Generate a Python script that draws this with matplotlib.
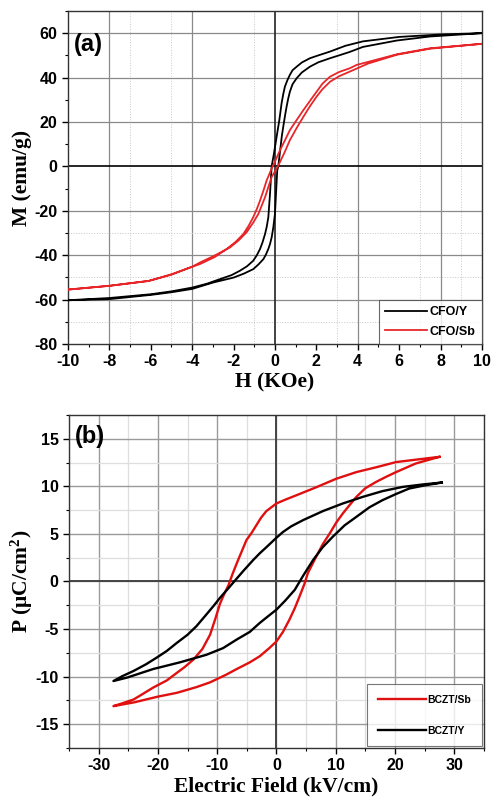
import matplotlib
matplotlib.use("Agg")
import matplotlib.pyplot as plt
from matplotlib.ticker import MultipleLocator

plt.rcParams["axes.unicode_minus"] = False
plt.rcParams["mathtext.fontset"] = "custom"
plt.rcParams["mathtext.rm"] = "Liberation Serif:bold"
plt.rcParams["mathtext.bf"] = "Liberation Serif:bold"
plt.rcParams["mathtext.it"] = "Liberation Serif:bold"

# ---- panel (a): M-H loops ----
# each loop: descending branch (+10 -> -10) followed by ascending branch (-10 -> +10)
cfo_y_H = [10, 8, 6, 4.25, 3.4, 2.66, 2.1, 1.69, 1.3, 1.05, 0.85, 0.72, 0.6, 0.48, 0.4,
           0.32, 0.21, 0.08, -0.05, -0.16, -0.24, -0.32, -0.4, -0.48, -0.6, -0.72, -0.88,
           -1.05, -1.35, -1.69, -2.1, -2.66, -3.3, -4, -5, -6, -8, -10,
           -8, -6, -5, -4, -2.98, -2.0, -1.5, -1.05, -0.8, -0.56, -0.44, -0.32, -0.24, -0.16,
           -0.08, 0, 0.05, 0.11, 0.16, 0.27, 0.33, 0.4, 0.48, 0.56, 0.64, 0.72, 0.85, 1.05,
           1.3, 1.69, 2.1, 2.66, 3.1, 3.6, 4.25, 5.9, 7.5, 10]
cfo_y_M = [60, 59.4, 58.3, 56.3, 54.3, 51.7, 50.0, 48.7, 46.8, 44.9, 43.3, 41.2, 38.8, 35.9, 32.5,
           28.4, 20.8, 13.3, 5.7, 0, -12.4, -22.9, -27.3, -30.5, -34.2, -37.2, -40.1,
           -42.5, -45.0, -47, -49.0, -50.8, -52.9, -54.6, -56.3, -57.6, -59.3, -60.3,
           -59.8, -57.9, -56.7, -55.2, -52.3, -50.1, -48.3, -46.3, -44.2, -41.8, -39.8, -37.2, -35.0, -32,
           -27.5, -21.4, -12.4, -1.8, 0, 8.7, 13.5, 17.8, 22.5, 26.8, 30.5, 33.6, 37.0, 39.7,
           42.3, 44.9, 46.9, 48.7, 50.0, 51.5, 53.8, 56.7, 58.5, 60]

cfo_sb_H = [10, 7.5, 5.9, 3.95, 3.62, 3.1, 2.66, 2.3, 2.01, 1.7, 1.37, 1.05, 0.72, 0.48, 0.24,
            0.04, -0.16, -0.4, -0.56, -0.72, -0.88, -1.05, -1.28, -1.53, -1.9, -2.33, -2.9,
            -3.62, -4.0, -5.0, -6.1, -8, -10,
            -8, -6.1, -5.0, -4.0, -3.62, -2.9, -2.17, -1.75, -1.37, -1.05, -0.8, -0.48, -0.16,
            0.14, 0.45, 0.72, 1.05, 1.37, 1.7, 2.01, 2.3, 2.66, 3.1, 3.62, 4.5, 5.9, 7.5, 10]
cfo_sb_M = [55.2, 53.2, 50.5, 45.7, 44.2, 42.5, 40.4, 37.3, 33.6, 29.6, 25.3, 20.9, 16.3, 11.7, 7.2,
            3.0, -1, -6.3, -11.0, -15.4, -19.3, -22.9, -26.9, -30.5, -34.0, -37.2, -40.8,
            -44, -45.2, -48.8, -51.6, -53.8, -55.5,
            -53.8, -51.6, -48.6, -45.2, -43.3, -40.1, -36.5, -33.3, -29.7, -25.3, -21.4, -13.9, -4.8,
            0, 6.0, 11.8, 17.3, 22.3, 27.2, 31.4, 34.8, 38.1, 40.6, 42.7, 46.3, 50.3, 53, 55.2]

# ---- panel (b): P-E loops ----
bczt_sb_E = [27.5, 25.5, 23.5, 20.2, 16.8, 13.5, 10.1, 6.7, 3.4, 1.5, 0, -1.7, -2.6, -3.4,
             -4.2, -5.05, -5.9, -6.7, -7.4, -8.1, -8.8, -9.5, -10.3, -11.2, -12.5, -14,
             -15.5, -16.8, -18.5, -20.8, -22.5, -24.1, -26, -27.5,
             -24, -20, -16.8, -13.5, -11.2, -8.5, -6.7, -4.5, -2.8, -1.2, 0, 1.1, 2.2, 3.1,
             3.9, 4.7, 5.3, 6.7, 7.8, 9.0, 10.1, 11.2, 12.3, 13.5, 15, 16.8, 18.5, 20.2,
             23.5, 27.5]
bczt_sb_P = [13.1, 12.95, 12.8, 12.55, 12.0, 11.5, 10.8, 9.9, 9.07, 8.6, 8.2, 7.4, 6.7, 5.9,
             5.1, 4.36, 3.1, 1.9, 0.8, -0.4, -1.3, -2.3, -3.9, -5.6, -7.1, -8.2,
             -9.0, -9.6, -10.4, -11.15, -11.8, -12.4, -12.8, -13.1,
             -12.7, -12.1, -11.7, -11.1, -10.6, -9.8, -9.2, -8.5, -7.85, -7.0, -6.3, -5.3, -4.0, -2.8,
             -1.57, -0.3, 0.88, 2.6, 3.9, 5.06, 6.2, 7.15, 8.0, 8.9, 9.8, 10.46, 11.0, 11.5,
             12.4, 13.1]

bczt_y_E = [27.9, 24.7, 21.3, 17.9, 14.6, 11.2, 7.85, 4.5, 2.5, 1.1, 0, -1.7, -2.8, -3.9,
            -5.6, -6.5, -7.4, -8.3, -9.5, -10.65, -12, -13.5, -15, -16.8, -18.5, -20.2, -22,
            -24.1, -26, -27.5,
            -25.2, -20.8, -16.3, -11.8, -9, -6.7, -4.5, -2.8, -1.3, 0, 1.5, 3.1, 4.5, 6.2,
            7.8, 9.5, 11.5, 13.5, 15.7, 17.9, 20.2, 22.4, 25, 27.9]
bczt_y_P = [10.4, 10.2, 9.94, 9.5, 8.9, 8.2, 7.4, 6.45, 5.8, 5.2, 4.6, 3.6, 2.97, 2.27,
            1.1, 0.45, -0.2, -0.85, -1.7, -2.6, -3.6, -4.7, -5.6, -6.45, -7.3, -8.0, -8.7,
            -9.4, -9.95, -10.46,
            -10.1, -9.2, -8.5, -7.7, -7.0, -6.1, -5.3, -4.35, -3.6, -2.96, -2.0, -0.87, 0.6, 2.27,
            3.6, 4.7, 5.9, 6.8, 7.8, 8.55, 9.2, 9.77, 10.1, 10.4]

tick_font = dict(family="Liberation Sans", weight="bold", size=11.5)
label_font = dict(family="Liberation Serif", weight="bold", size=15.5)

fig = plt.figure(figsize=(4.91, 8.05), dpi=100)
ax1 = fig.add_axes([0.1385, 0.5727, 0.843, 0.4137])
ax2 = fig.add_axes([0.1405, 0.0708, 0.845, 0.4137])


def style_axes(ax):
    ax.tick_params(which="both", direction="out", top=False, right=False)
    ax.tick_params(which="major", length=4, width=1)
    ax.tick_params(which="minor", length=2.5, width=0.8)
    for lab in ax.get_xticklabels() + ax.get_yticklabels():
        lab.set_fontfamily(tick_font["family"])
        lab.set_fontweight("bold")
        lab.set_fontsize(tick_font["size"])
    for sp in ax.spines.values():
        sp.set_linewidth(1.0)
        sp.set_color("#333333")


# ---------- (a) ----------
ax1.set_xlim(-10, 10)
ax1.set_ylim(-80, 70)
ax1.xaxis.set_major_locator(MultipleLocator(2))
ax1.xaxis.set_minor_locator(MultipleLocator(1))
ax1.yaxis.set_major_locator(MultipleLocator(20))
ax1.yaxis.set_minor_locator(MultipleLocator(10))
for v in [-8, -4, 4, 8]:
    ax1.axvline(v, color="#8a8a8a", lw=0.9, zorder=0)
for v in [-7, -5, -1, 3, 7, 9]:
    ax1.axvline(v, color="#c8c8c8", lw=0.7, ls=":", zorder=0)
for v in [-60, -40, -20, 20, 40, 60]:
    ax1.axhline(v, color="#8a8a8a", lw=0.9, zorder=0)
for v in [-70, -50, -30]:
    ax1.axhline(v, color="#c8c8c8", lw=0.7, ls=":", zorder=0)
ax1.axhline(0, color="black", lw=1.2, zorder=1)
ax1.axvline(0, color="#222222", lw=1.2, zorder=1)

ax1.plot(cfo_y_H, cfo_y_M, color="black", lw=1.3, label="CFO/Y", zorder=3)
ax1.plot(cfo_sb_H, cfo_sb_M, color="#e8262a", lw=1.3, label="CFO/Sb", zorder=3)

ax1.set_xlabel("H (KOe)", fontdict=label_font, labelpad=2)
ax1.set_ylabel("M (emu/g)", fontdict=label_font, labelpad=2)
ax1.text(0.015, 0.9, "(a)", transform=ax1.transAxes, fontsize=17,
         fontweight="bold", family="Liberation Sans", va="center")
leg1 = ax1.legend(loc="lower right", prop=dict(family="Liberation Sans", weight="bold", size=9),
                  frameon=True, fancybox=False, edgecolor="#444444", handlelength=3.4,
                  handletextpad=0.2, borderaxespad=0.0, borderpad=0.5, labelspacing=0.6)
leg1.get_frame().set_linewidth(0.8)
style_axes(ax1)

# ---------- (b) ----------
ax2.set_xlim(-35, 35)
ax2.set_ylim(-17.5, 17.5)
ax2.xaxis.set_major_locator(MultipleLocator(10))
ax2.xaxis.set_minor_locator(MultipleLocator(5))
ax2.yaxis.set_major_locator(MultipleLocator(5))
ax2.yaxis.set_minor_locator(MultipleLocator(2.5))
ax2.grid(which="major", color="#9a9a9a", lw=1.0, zorder=0)
ax2.grid(which="minor", color="#dedede", lw=0.9, zorder=0)
ax2.set_axisbelow(True)
ax2.axhline(0, color="#444444", lw=1.4, zorder=1)
ax2.axvline(0, color="#444444", lw=1.4, zorder=1)

ax2.plot(bczt_sb_E, bczt_sb_P, color="#e01010", lw=1.7, label="BCZT/Sb", zorder=3)
ax2.plot(bczt_y_E, bczt_y_P, color="black", lw=1.7, label="BCZT/Y", zorder=3)

ax2.set_xlabel("Electric Field (kV/cm)", fontdict=label_font, labelpad=2)
ax2.set_ylabel("P (μC/cm$^{2}$)", fontdict=label_font, labelpad=0)
ax2.text(0.015, 0.935, "(b)", transform=ax2.transAxes, fontsize=17,
         fontweight="bold", family="Liberation Sans", va="center")
leg2 = ax2.legend(loc="lower right", prop=dict(family="Liberation Sans", weight="bold", size=7.5),
                  frameon=True, fancybox=False, edgecolor="#555555", handlelength=4.6,
                  handletextpad=0.2, borderaxespad=0.2, borderpad=1.0, labelspacing=2.0)
leg2.get_frame().set_linewidth(0.8)
style_axes(ax2)

fig.savefig("out.png", dpi=100, facecolor="white")
